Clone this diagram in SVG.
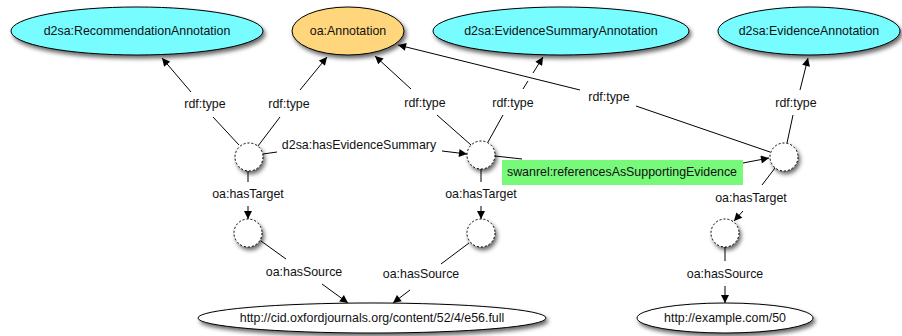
<svg xmlns="http://www.w3.org/2000/svg" width="902" height="336" viewBox="0 0 902 336">
<defs>
<filter id="sh" x="-20%" y="-30%" width="150%" height="180%">
<feDropShadow dx="2" dy="3" stdDeviation="2" flood-color="#000" flood-opacity="0.6"/>
</filter>
<marker id="ar" viewBox="0 0 10 10" refX="10" refY="5" markerWidth="9" markerHeight="8" markerUnits="userSpaceOnUse" orient="auto">
<path d="M0,0 L10,5 L0,10 z" fill="#000"/>
</marker>
</defs>
<style>
text{font-family:"Liberation Sans",Arial,sans-serif;font-size:12.4px;fill:#111;text-anchor:middle;dominant-baseline:central}
.cls{fill:#77FCFF;stroke:#000;stroke-width:1}
.ann{fill:#FFD67C;stroke:#000;stroke-width:1}
.lit{fill:#fff;stroke:#000;stroke-width:1}
.bn{fill:#fff;stroke:#000;stroke-width:1;stroke-dasharray:2 2}
#edges line{stroke:#000;stroke-width:1;fill:none}
.lbl{fill:#77F97A}
</style>

<g id="edges">
<line x1="239" y1="145" x2="213" y2="117"/>
<line x1="191" y1="92" x2="162" y2="58" marker-end="url(#ar)"/>
<text x="205" y="104">rdf:type</text>
<line x1="258" y1="146" x2="280" y2="117"/>
<line x1="300" y1="90" x2="327" y2="57" marker-end="url(#ar)"/>
<text x="289" y="104">rdf:type</text>
<line x1="471" y1="145" x2="437" y2="115"/>
<line x1="411" y1="89" x2="375" y2="56" marker-end="url(#ar)"/>
<text x="425" y="103">rdf:type</text>
<line x1="488" y1="142" x2="503" y2="115"/>
<line x1="523" y1="89" x2="528" y2="81"/>
<line x1="533" y1="73" x2="543" y2="57" marker-end="url(#ar)"/>
<text x="513" y="103">rdf:type</text>
<line x1="770" y1="152" x2="636" y2="106"/>
<line x1="580" y1="90" x2="398" y2="45" marker-end="url(#ar)"/>
<text x="609" y="97">rdf:type</text>
<line x1="787" y1="143" x2="793" y2="115"/>
<line x1="800" y1="90" x2="808" y2="58" marker-end="url(#ar)"/>
<text x="796" y="103">rdf:type</text>
<line x1="263" y1="154" x2="277" y2="152"/>
<line x1="442" y1="151" x2="467" y2="154" marker-end="url(#ar)"/>
<text x="359" y="145">d2sa:hasEvidenceSummary</text>
<line x1="495" y1="156" x2="522" y2="159"/>
<line x1="743" y1="163" x2="769" y2="158" marker-end="url(#ar)"/>
<g id="swanrel">
<rect class="lbl" x="502" y="160" width="241" height="25"/>
<text x="622" y="172">swanrel:referencesAsSupportingEvidence</text>
</g>
<line x1="248" y1="171" x2="248" y2="182"/>
<line x1="248" y1="206" x2="248" y2="219" marker-end="url(#ar)"/>
<text x="248" y="194">oa:hasTarget</text>
<line x1="481" y1="169" x2="481" y2="182"/>
<line x1="481" y1="206" x2="481" y2="219" marker-end="url(#ar)"/>
<text x="481" y="194">oa:hasTarget</text>
<line x1="775" y1="168" x2="762" y2="185"/>
<line x1="743" y1="211" x2="734" y2="221" marker-end="url(#ar)"/>
<text x="751" y="198">oa:hasTarget</text>
<line x1="261" y1="241" x2="286" y2="259"/>
<line x1="322" y1="284" x2="348" y2="303" marker-end="url(#ar)"/>
<text x="304" y="272">oa:hasSource</text>
<line x1="469" y1="243" x2="441" y2="264"/>
<line x1="410" y1="290" x2="393" y2="303" marker-end="url(#ar)"/>
<text x="421" y="274">oa:hasSource</text>
<line x1="725" y1="247" x2="725" y2="261"/>
<line x1="725" y1="286" x2="725" y2="303" marker-end="url(#ar)"/>
<text x="725" y="274">oa:hasSource</text>
</g>

<g id="recAnn"><ellipse class="cls" filter="url(#sh)" cx="137" cy="31" rx="126" ry="24"/><text x="137" y="31">d2sa:RecommendationAnnotation</text></g>
<g id="oaAnn"><ellipse class="ann" filter="url(#sh)" cx="348" cy="31" rx="56" ry="24"/><text x="348" y="31">oa:Annotation</text></g>
<g id="esAnn"><ellipse class="cls" filter="url(#sh)" cx="561" cy="31" rx="128" ry="24"/><text x="561" y="31">d2sa:EvidenceSummaryAnnotation</text></g>
<g id="evAnn"><ellipse class="cls" filter="url(#sh)" cx="809" cy="31" rx="91" ry="24"/><text x="809" y="31">d2sa:EvidenceAnnotation</text></g>

<g id="b1"><circle class="bn" filter="url(#sh)" cx="249" cy="157" r="14"/></g>
<g id="b2"><circle class="bn" filter="url(#sh)" cx="481" cy="155" r="14"/></g>
<g id="b3"><circle class="bn" filter="url(#sh)" cx="784" cy="157" r="14"/></g>
<g id="b4"><circle class="bn" filter="url(#sh)" cx="248" cy="233" r="14"/></g>
<g id="b5"><circle class="bn" filter="url(#sh)" cx="481" cy="233" r="14"/></g>
<g id="b6"><circle class="bn" filter="url(#sh)" cx="725" cy="233" r="14"/></g>

<g id="oxford"><ellipse class="lit" filter="url(#sh)" cx="372" cy="318" rx="174" ry="15"/><text x="372" y="318">http://cid.oxfordjournals.org/content/52/4/e56.full</text></g>
<g id="example"><ellipse class="lit" filter="url(#sh)" cx="725" cy="318" rx="88" ry="15"/><text x="725" y="318">http://example.com/50</text></g>
</svg>
